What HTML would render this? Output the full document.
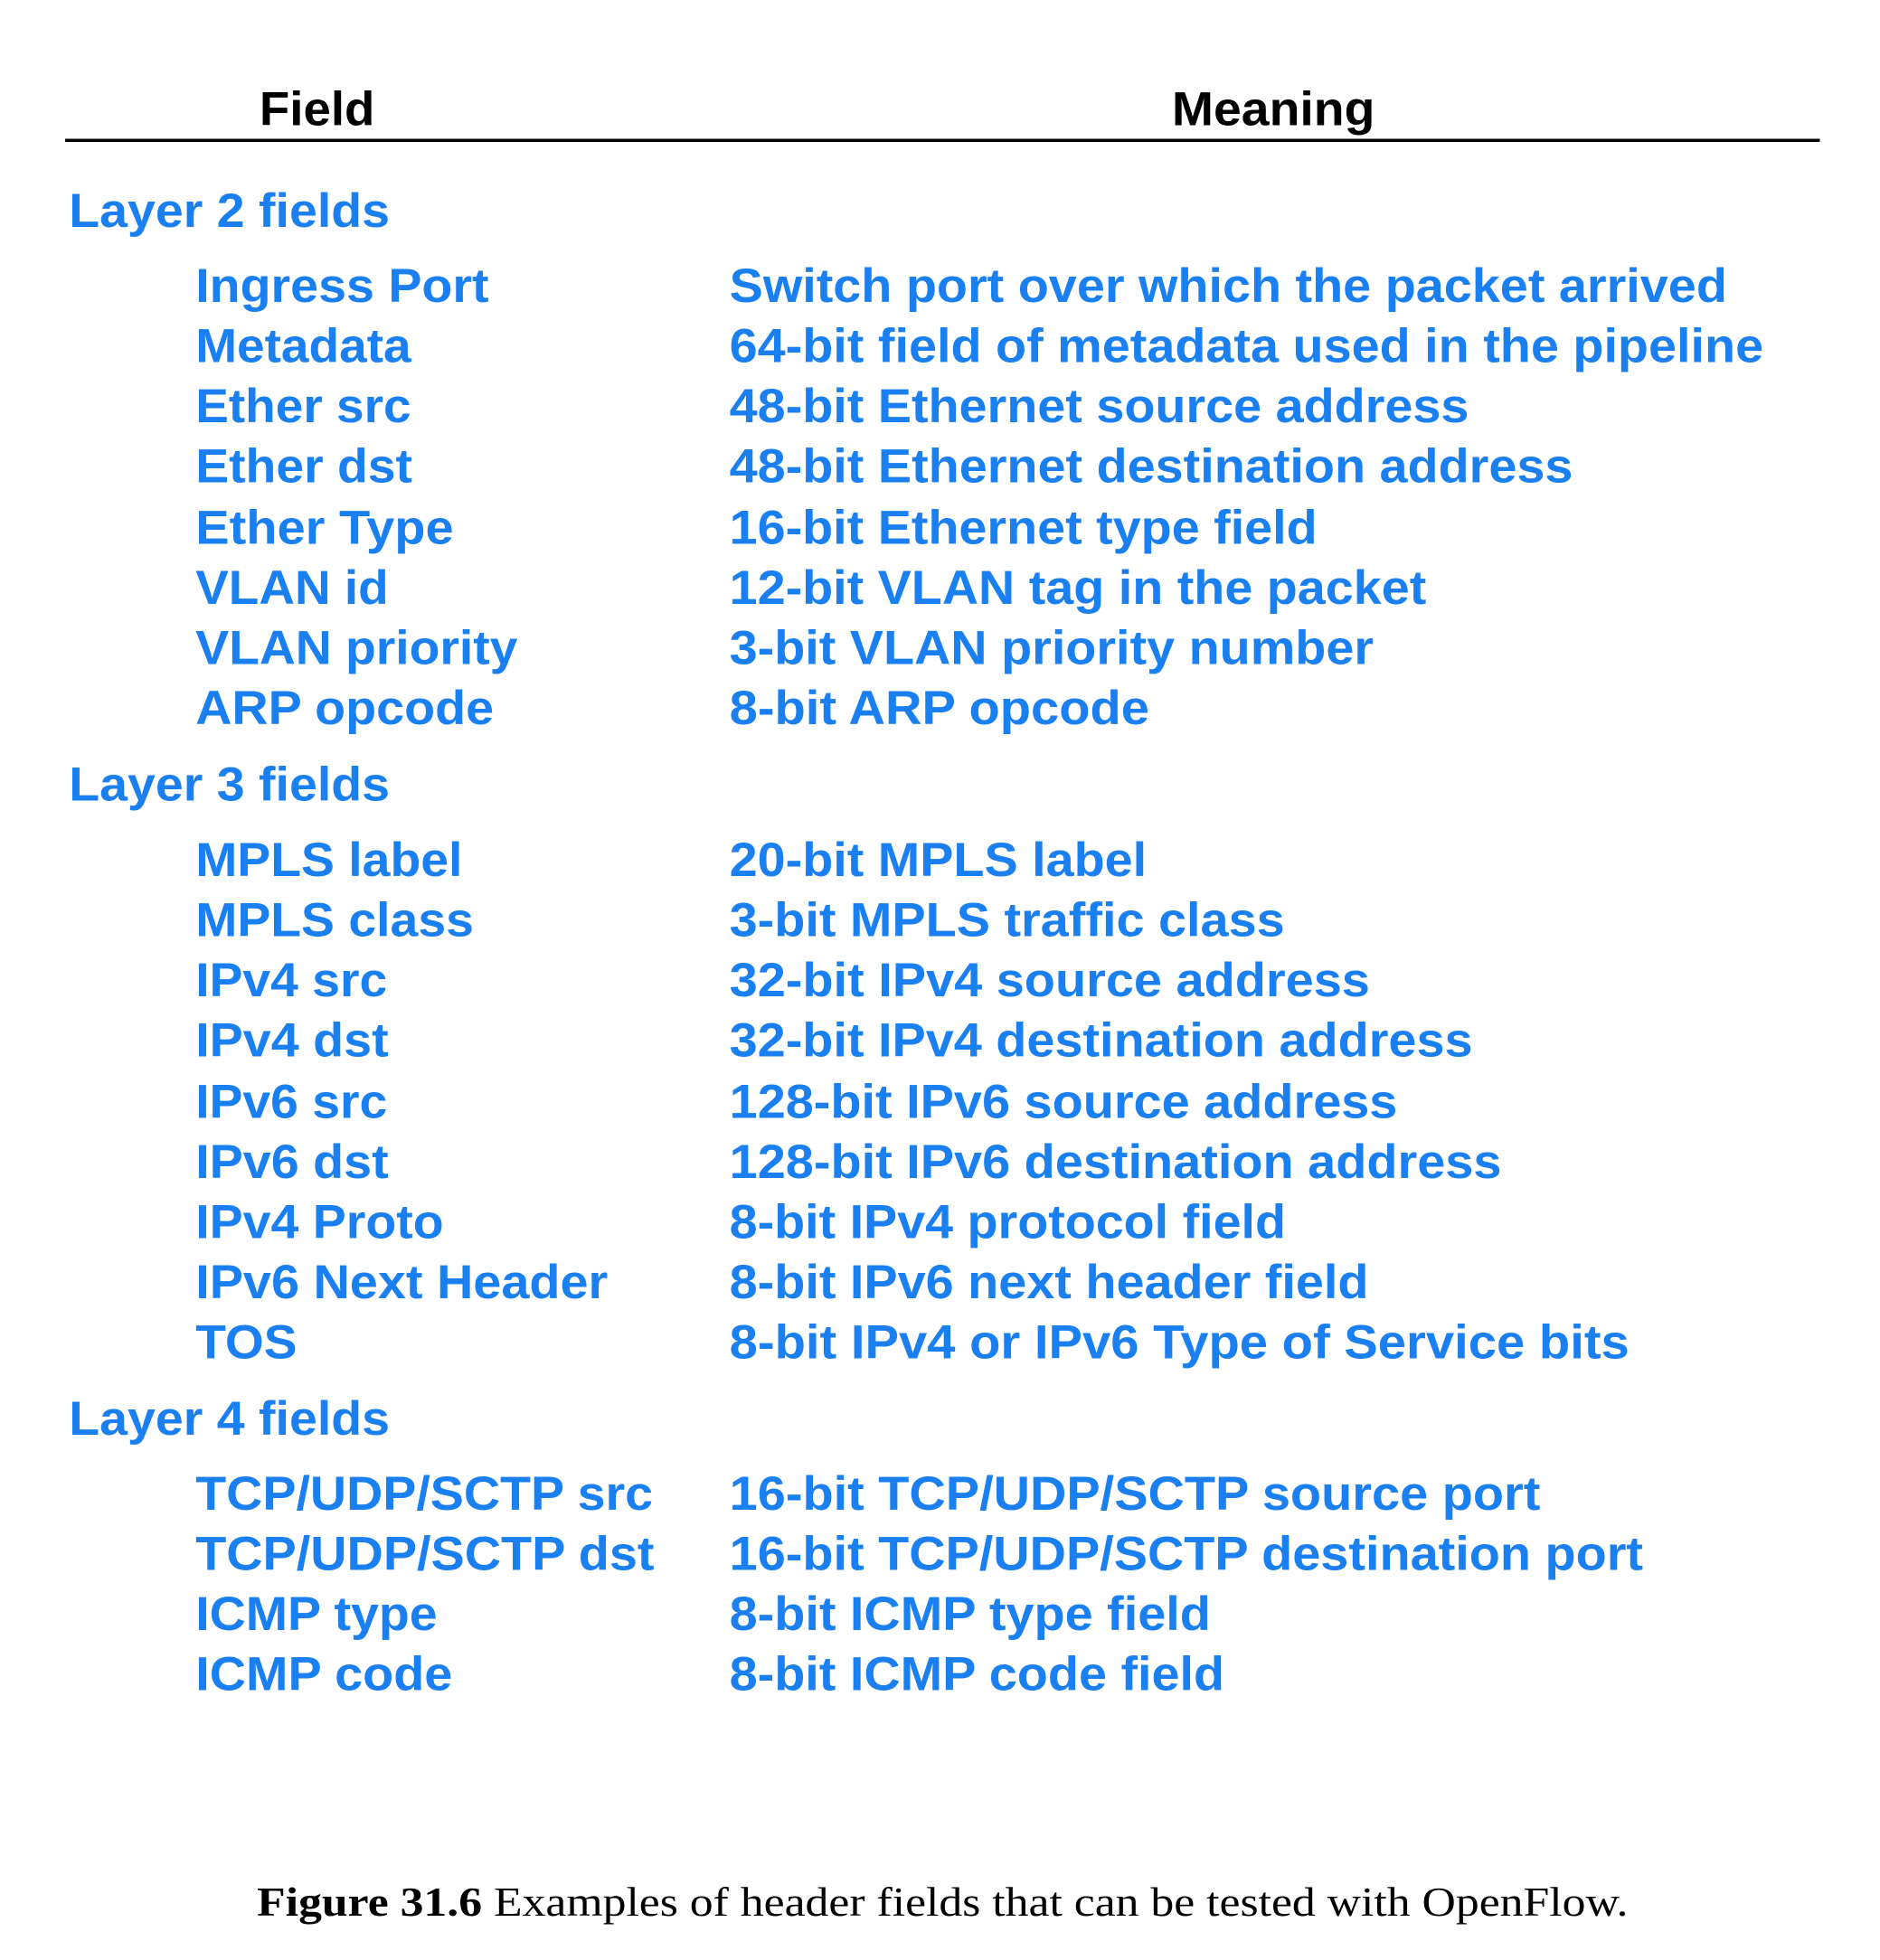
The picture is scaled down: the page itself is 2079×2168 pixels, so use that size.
<!DOCTYPE html>
<html><head><meta charset="utf-8"><style>html,body{margin:0;padding:0;background:#fff}svg{display:block}</style></head>
<body>
<svg width="2079" height="2168" viewBox="0 0 1500 1564.2" xmlns="http://www.w3.org/2000/svg">
<rect width="1500" height="1564.2" fill="#fff"/>
<g font-family="Liberation Sans, Arial, sans-serif" font-weight="bold" font-size="38" lengthAdjust="spacingAndGlyphs">
<text x="207" y="100" fill="#000" textLength="92" lengthAdjust="spacingAndGlyphs">Field</text>
<text x="935" y="100" fill="#000" textLength="162" lengthAdjust="spacingAndGlyphs">Meaning</text>
</g>
<line x1="52" y1="112" x2="1452" y2="112" stroke="#000" stroke-width="2.6"/>
<g font-family="Liberation Sans, Arial, sans-serif" font-weight="bold" font-size="38" fill="#1a7ff0">
<text x="55" y="181" textLength="256" lengthAdjust="spacingAndGlyphs">Layer 2 fields</text>
<text x="156" y="241" textLength="234" lengthAdjust="spacingAndGlyphs">Ingress Port</text>
<text x="582" y="241" textLength="796" lengthAdjust="spacingAndGlyphs">Switch port over which the packet arrived</text>
<text x="156" y="289" textLength="172" lengthAdjust="spacingAndGlyphs">Metadata</text>
<text x="582" y="289" textLength="825" lengthAdjust="spacingAndGlyphs">64-bit field of metadata used in the pipeline</text>
<text x="156" y="337" textLength="172" lengthAdjust="spacingAndGlyphs">Ether src</text>
<text x="582" y="337" textLength="590" lengthAdjust="spacingAndGlyphs">48-bit Ethernet source address</text>
<text x="156" y="385" textLength="173" lengthAdjust="spacingAndGlyphs">Ether dst</text>
<text x="582" y="385" textLength="673" lengthAdjust="spacingAndGlyphs">48-bit Ethernet destination address</text>
<text x="156" y="434" textLength="206" lengthAdjust="spacingAndGlyphs">Ether Type</text>
<text x="582" y="434" textLength="469" lengthAdjust="spacingAndGlyphs">16-bit Ethernet type field</text>
<text x="156" y="482" textLength="154" lengthAdjust="spacingAndGlyphs">VLAN id</text>
<text x="582" y="482" textLength="556" lengthAdjust="spacingAndGlyphs">12-bit VLAN tag in the packet</text>
<text x="156" y="530" textLength="257" lengthAdjust="spacingAndGlyphs">VLAN priority</text>
<text x="582" y="530" textLength="514" lengthAdjust="spacingAndGlyphs">3-bit VLAN priority number</text>
<text x="156" y="578" textLength="238" lengthAdjust="spacingAndGlyphs">ARP opcode</text>
<text x="582" y="578" textLength="335" lengthAdjust="spacingAndGlyphs">8-bit ARP opcode</text>

<text x="55" y="639" textLength="256" lengthAdjust="spacingAndGlyphs">Layer 3 fields</text>
<text x="156" y="699" textLength="213" lengthAdjust="spacingAndGlyphs">MPLS label</text>
<text x="582" y="699" textLength="333" lengthAdjust="spacingAndGlyphs">20-bit MPLS label</text>
<text x="156" y="747" textLength="222" lengthAdjust="spacingAndGlyphs">MPLS class</text>
<text x="582" y="747" textLength="443" lengthAdjust="spacingAndGlyphs">3-bit MPLS traffic class</text>
<text x="156" y="795" textLength="153" lengthAdjust="spacingAndGlyphs">IPv4 src</text>
<text x="582" y="795" textLength="511" lengthAdjust="spacingAndGlyphs">32-bit IPv4 source address</text>
<text x="156" y="843" textLength="154" lengthAdjust="spacingAndGlyphs">IPv4 dst</text>
<text x="582" y="843" textLength="593" lengthAdjust="spacingAndGlyphs">32-bit IPv4 destination address</text>
<text x="156" y="892" textLength="153" lengthAdjust="spacingAndGlyphs">IPv6 src</text>
<text x="582" y="892" textLength="533" lengthAdjust="spacingAndGlyphs">128-bit IPv6 source address</text>
<text x="156" y="940" textLength="154" lengthAdjust="spacingAndGlyphs">IPv6 dst</text>
<text x="582" y="940" textLength="616" lengthAdjust="spacingAndGlyphs">128-bit IPv6 destination address</text>
<text x="156" y="988" textLength="198" lengthAdjust="spacingAndGlyphs">IPv4 Proto</text>
<text x="582" y="988" textLength="444" lengthAdjust="spacingAndGlyphs">8-bit IPv4 protocol field</text>
<text x="156" y="1036" textLength="329" lengthAdjust="spacingAndGlyphs">IPv6 Next Header</text>
<text x="582" y="1036" textLength="510" lengthAdjust="spacingAndGlyphs">8-bit IPv6 next header field</text>
<text x="156" y="1084" textLength="81" lengthAdjust="spacingAndGlyphs">TOS</text>
<text x="582" y="1084" textLength="718" lengthAdjust="spacingAndGlyphs">8-bit IPv4 or IPv6 Type of Service bits</text>

<text x="55" y="1145" textLength="256" lengthAdjust="spacingAndGlyphs">Layer 4 fields</text>
<text x="156" y="1205" textLength="365" lengthAdjust="spacingAndGlyphs">TCP/UDP/SCTP src</text>
<text x="582" y="1205" textLength="647" lengthAdjust="spacingAndGlyphs">16-bit TCP/UDP/SCTP source port</text>
<text x="156" y="1253" textLength="366" lengthAdjust="spacingAndGlyphs">TCP/UDP/SCTP dst</text>
<text x="582" y="1253" textLength="729" lengthAdjust="spacingAndGlyphs">16-bit TCP/UDP/SCTP destination port</text>
<text x="156" y="1301" textLength="193" lengthAdjust="spacingAndGlyphs">ICMP type</text>
<text x="582" y="1301" textLength="384" lengthAdjust="spacingAndGlyphs">8-bit ICMP type field</text>
<text x="156" y="1349" textLength="205" lengthAdjust="spacingAndGlyphs">ICMP code</text>
<text x="582" y="1349" textLength="395" lengthAdjust="spacingAndGlyphs">8-bit ICMP code field</text>
</g>
<text x="205" y="1529" font-family="Liberation Serif, Times New Roman, serif" font-size="33" fill="#000" textLength="1094" lengthAdjust="spacingAndGlyphs"><tspan font-weight="bold">Figure 31.6</tspan>  Examples of header fields that can be tested with OpenFlow.</text>
</svg>
</body></html>
